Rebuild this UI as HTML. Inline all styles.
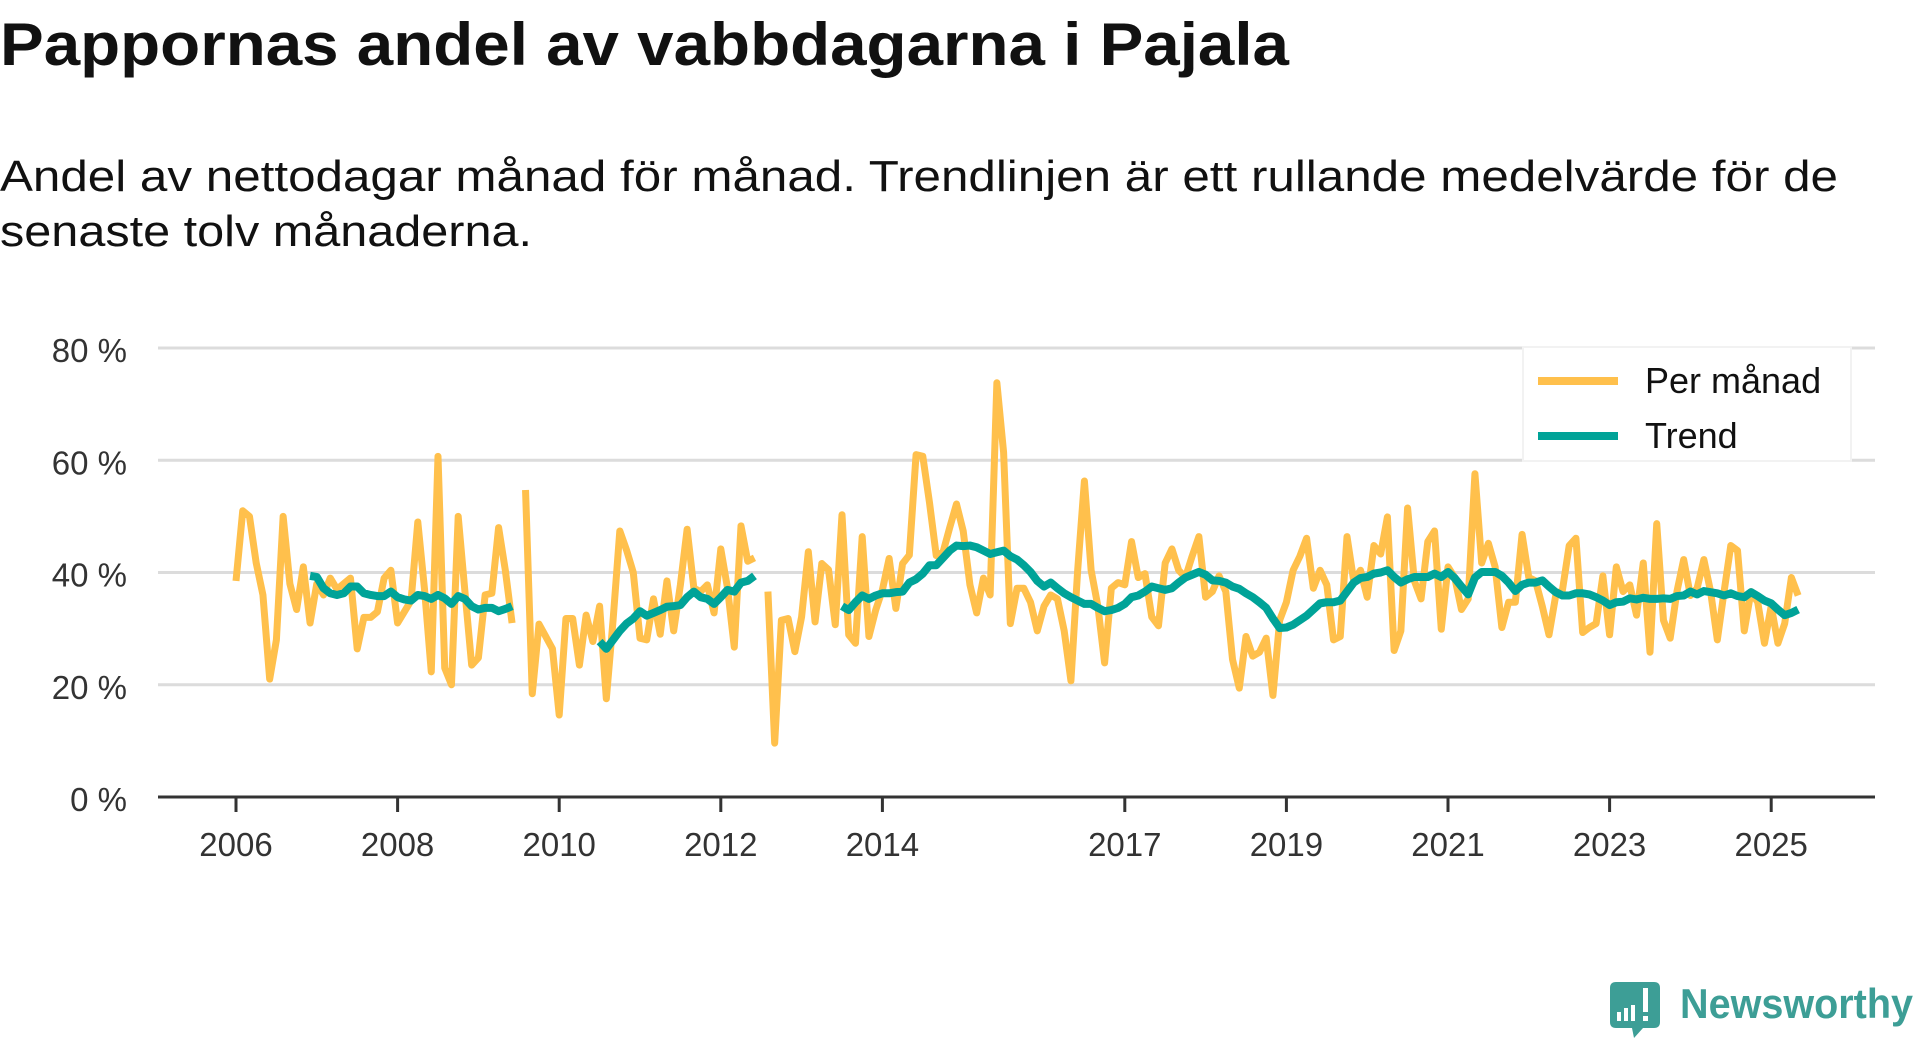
<!DOCTYPE html>
<html><head><meta charset="utf-8"><title>Pappornas andel av vabbdagarna i Pajala</title>
<style>
html,body{margin:0;padding:0;background:#fff;}
svg{display:block;}
text{font-family:"Liberation Sans","DejaVu Sans",sans-serif;}
</style></head>
<body>
<svg id="chart" width="1920" height="1040" viewBox="0 0 1920 1040" xmlns="http://www.w3.org/2000/svg">
  <text x="0" y="65" font-size="60" font-weight="bold" fill="#111" textLength="1289" lengthAdjust="spacingAndGlyphs">Pappornas andel av vabbdagarna i Pajala</text>
  <text x="0" y="191" font-size="44" fill="#111" textLength="1838" lengthAdjust="spacingAndGlyphs">Andel av nettodagar månad för månad. Trendlinjen är ett rullande medelvärde för de</text>
  <text x="0" y="246" font-size="44" fill="#111" textLength="532" lengthAdjust="spacingAndGlyphs">senaste tolv månaderna.</text>
  <g id="grid"></g>
  <g id="yaxis"></g>
  <g id="xaxis"></g>
  <g id="series"></g>
  <g>
    <rect x="1523" y="347" width="328" height="114" fill="#fff" stroke="#f2f2f2" stroke-width="2"/>
    <line x1="1538" y1="381" x2="1618" y2="381" stroke="#FFC04C" stroke-width="8"/>
    <text x="1645" y="393" font-size="36" fill="#111">Per månad</text>
    <line x1="1538" y1="436" x2="1618" y2="436" stroke="#00A398" stroke-width="8"/>
    <text x="1645" y="448" font-size="36" fill="#111">Trend</text>
  </g>
  <g>
    <path d="M1616 982 H1654 Q1660 982 1660 988 V1022 Q1660 1028 1654 1028 H1643 L1634 1038 L1632 1028 H1616 Q1610 1028 1610 1022 V988 Q1610 982 1616 982 Z" fill="#3d9e96"/>
    <rect x="1617" y="1012" width="4" height="9" fill="#fff"/>
    <rect x="1624" y="1008" width="4" height="13" fill="#fff"/>
    <rect x="1631" y="1005" width="4" height="16" fill="#fff"/>
    <rect x="1643" y="988" width="5" height="24" fill="#fff"/>
    <rect x="1643" y="1016" width="5" height="5" fill="#fff"/>
    <text x="1680" y="1018" font-size="42" font-weight="bold" fill="#3d9e96" textLength="233" lengthAdjust="spacingAndGlyphs">Newsworthy</text>
  </g>
</svg>
<script>
const startYear = 2006;
const yTicks = [0, 20, 40, 60, 80];
const yTickLabels = ["0 %", "20 %", "40 %", "60 %", "80 %"];
const xTickYears = [2006, 2008, 2010, 2012, 2014, 2017, 2019, 2021, 2023, 2025];
const xTickLabels = ["2006", "2008", "2010", "2012", "2014", "2017", "2019", "2021", "2023", "2025"];
const perManad = [
38.5,51,50,41.7,36,21,28,50,38,33.4,41,31,
38,36,39,37,38,39,26.4,32,32,33,39,40.4,
31,33,35,49,37,22.3,60.7,23,20,50,36.6,23.5,
24.8,36,36.3,48,40.4,31,null,
54.7,18.4,30.8,28.6,26.4,14.6,31.8,31.8,23.5,32.4,27.7,34,17.5,31.5,47.4,44,40,28.3,28,35.3,29,38.5,29.6,37.8,47.7,37.2,36.6,37.8,32.8,44.2,37.2,26.7,48.3,42,42.6,
null,
36.6,9.6,31.5,31.8,25.9,
32.1,43.7,31.2,41.6,40.5,30.7,50.3,28.9,27.4,46.4,28.6,33.3,
36.9,42.5,33.6,41.6,43.1,61,60.7,52.4,43,43.6,
48,52.2,47.4,37.8,32.8,39,36,73.8,61.4,30.9,37.2,37.2,34.7,29.6,
34,36,35.3,29.6,20.7,40.4,56.3,40.4,34,23.9,37.2,38.2,
37.8,45.5,39.1,39.8,32.1,30.5,41.7,44.2,40.4,39.1,42.9,46.4,
35.6,36.6,39.4,36.6,24.5,19.4,28.6,25.1,25.8,28.3,18.1,31.5,
34.7,40.4,42.9,46.1,37.2,40.4,37.8,28,28.6,46.4,38.5,40.4,
35.6,44.8,43.3,49.9,26.1,29.6,51.5,38.5,35.3,45.5,47.4,29.9,
41,39.1,33.4,35.3,57.6,41.7,45.2,41,30.2,34.7,34.7,46.8,
39.1,38.5,34,28.9,35.9,36.9,44.8,46.1,29.3,30.2,30.9,39.4,
28.9,41,36.6,37.8,32.4,41.7,25.8,48.7,31.5,28.3,36.6,42.3,
35.9,37.2,42.3,36.6,28,36.6,44.8,43.9,29.6,36.6,34.7,27.4,
34,27.4,30.9,39.1,35.9
];
const trend = [
null,null,null,null,null,null,null,null,null,null,null,
39.4,39.2,37.2,36.3,36,36.3,37.5,37.5,36.3,36,35.8,35.8,36.6,35.6,35.2,35,36,35.8,35.3,36,35.4,34.4,35.8,35.3,34,33.4,33.7,33.7,33.1,33.5,34,
null,null,null,null,null,null,null,null,null,null,null,null,
27.7,26.4,28,29.6,30.9,31.8,33.1,32.3,32.8,33.3,33.9,34,34.2,35.6,36.6,35.6,35.3,34.4,35.6,36.9,36.6,38.2,38.5,39.4,
null,null,null,null,null,null,null,null,null,null,null,null,
34,33.3,34.7,35.9,35.3,35.9,36.3,36.3,36.5,36.6,38.2,38.8,39.8,41.3,41.3,42.6,43.9,44.8,44.7,44.8,44.5,43.9,43.3,43.6,43.9,42.9,42.3,41.3,40.1,38.5,
37.5,38.2,37.2,36.3,35.6,35,34.4,34.4,33.7,33.1,33.3,33.7,
34.4,35.6,35.9,36.6,37.5,37.2,36.9,37.2,38.2,39.1,39.6,40.1,
39.6,38.6,38.5,38.2,37.5,37.1,36.3,35.6,34.7,33.7,31.8,30.1,
30.2,30.7,31.5,32.3,33.4,34.5,34.7,34.7,35,36.6,38.2,39,
39.2,39.8,40,40.4,39.2,38.2,38.8,39.2,39.2,39.2,39.8,39.2,
40.1,39,37.5,36.1,39.1,40.1,40.1,40.1,39.4,38.2,36.7,37.8,
38.2,38.2,38.6,37.5,36.5,35.9,35.9,36.3,36.3,36.1,35.6,35,
34.2,34.7,34.8,35.4,35.2,35.5,35.3,35.3,35.4,35.3,35.8,35.9,
36.6,36.1,36.7,36.5,36.3,35.9,36.3,35.8,35.6,36.5,35.8,35,
34.5,33.4,32.4,32.8,33.4
];

const NS = "http://www.w3.org/2000/svg";
const X0 = 236, PX_PER_YEAR = 80.8, Y0 = 797, PX_PER_PCT = 5.6125;
const PLOT_L = 158, PLOT_R = 1875;
function xYear(yr) { return X0 + (yr - startYear) * PX_PER_YEAR; }
function xMonth(i) { return xYear(startYear + i / 12); }
function yVal(v) { return Y0 - v * PX_PER_PCT; }

const grid = document.getElementById('grid');
const yaxis = document.getElementById('yaxis');
const xaxis = document.getElementById('xaxis');
const series = document.getElementById('series');

yTicks.forEach(function (t, i) {
  if (t !== 0) {
    const gl = document.createElementNS(NS, 'line');
    gl.setAttribute('x1', PLOT_L); gl.setAttribute('x2', PLOT_R);
    gl.setAttribute('y1', yVal(t)); gl.setAttribute('y2', yVal(t));
    gl.setAttribute('stroke', '#dcdcdc'); gl.setAttribute('stroke-width', '3');
    
    
    grid.appendChild(gl);
  }
  const lb = document.createElementNS(NS, 'text');
  lb.setAttribute('x', 127); lb.setAttribute('y', yVal(t) + 14);
  lb.setAttribute('text-anchor', 'end'); lb.setAttribute('font-size', '33');
  lb.setAttribute('fill', '#333');
  lb.textContent = yTickLabels[i];
  
  
  yaxis.appendChild(lb);
});

const axisLine = document.createElementNS(NS, 'line');
axisLine.setAttribute('x1', PLOT_L); axisLine.setAttribute('x2', PLOT_R);
axisLine.setAttribute('y1', Y0); axisLine.setAttribute('y2', Y0);
axisLine.setAttribute('stroke', '#333'); axisLine.setAttribute('stroke-width', '3');


xaxis.appendChild(axisLine);

xTickYears.forEach(function (yr, i) {
  const x = xYear(yr);
  const tk = document.createElementNS(NS, 'line');
  tk.setAttribute('x1', x); tk.setAttribute('x2', x);
  tk.setAttribute('y1', Y0); tk.setAttribute('y2', Y0 + 15);
  tk.setAttribute('stroke', '#333'); tk.setAttribute('stroke-width', '3');
  
  
  xaxis.appendChild(tk);
  const lb = document.createElementNS(NS, 'text');
  lb.setAttribute('x', x); lb.setAttribute('y', 856);
  lb.setAttribute('text-anchor', 'middle'); lb.setAttribute('font-size', '33');
  lb.setAttribute('fill', '#333');
  lb.textContent = xTickLabels[i];
  
  
  xaxis.appendChild(lb);
});

function buildPath(values) {
  let d = '', pen = false;
  values.forEach(function (v, i) {
    if (v === null || v === undefined) { pen = false; return; }
    d += (pen ? 'L' : 'M') + xMonth(i).toFixed(2) + ' ' + yVal(v).toFixed(2) + ' ';
    pen = true;
  });
  return d;
}

const pm = document.createElementNS(NS, 'path');
pm.setAttribute('d', buildPath(perManad));
pm.setAttribute('fill', 'none'); pm.setAttribute('stroke', '#FFC04C');
pm.setAttribute('stroke-width', '7'); pm.setAttribute('stroke-linejoin', 'round');


series.appendChild(pm);

const tr = document.createElementNS(NS, 'path');
tr.setAttribute('d', buildPath(trend));
tr.setAttribute('fill', 'none'); tr.setAttribute('stroke', '#00A398');
tr.setAttribute('stroke-width', '8'); tr.setAttribute('stroke-linejoin', 'round');


series.appendChild(tr);
</script>
</body></html>
